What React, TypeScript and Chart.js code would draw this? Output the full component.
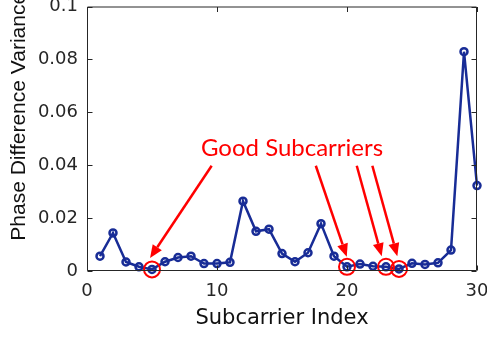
import React, { useEffect, useRef } from "react";
import { Chart, registerables } from "chart.js";

Chart.register(...registerables);

// ---- data ----
const subcarriers = [1, 2, 3, 4, 5, 6, 7, 8, 9, 10, 11, 12, 13, 14, 15, 16, 17, 18, 19, 20, 21, 22, 23, 24, 25, 26, 27, 28, 29, 30];
const variance = [
  0.0056, 0.0144, 0.0034, 0.0016, 0.0006, 0.0035, 0.0051, 0.0056, 0.0028, 0.0028,
  0.0033, 0.0264, 0.015, 0.0158, 0.0066, 0.0035, 0.0069, 0.0179, 0.0056, 0.0016,
  0.0026, 0.0018, 0.0016, 0.0008, 0.0029, 0.0025, 0.0031, 0.0079, 0.0829, 0.0323,
];
const xTicks = [0, 10, 20, 30];
const yTicks = [0, 0.02, 0.04, 0.06, 0.08, 0.1];
const goodSubcarriers = [5, 20, 23, 24];
const annotationLabel = "Good Subcarriers";
const annotationAnchor = [15.77, 0.0436];
const arrowFromX = [9.59, 17.6, 20.75, 21.95];
const arrowFromY = [0.0398, 0.0398, 0.0398, 0.0398];
const arrowToX = [4.85, 19.98, 22.67, 23.87];
const arrowToY = [0.0049, 0.0054, 0.0056, 0.0056];
const xTitle = "Subcarrier Index";
const yTitle = "Phase Difference Variance";

const LINE_BLUE = "rgb(24,44,150)";
const AXIS = "#262626";
const RED = "#ff0000";

const decor = {
  id: "decor",
  afterDatasetsDraw(chart: any) {
    const { ctx, scales } = chart;
    const x = scales.x;
    const y = scales.y;
    ctx.save();
    // red circles
    ctx.strokeStyle = RED;
    ctx.lineWidth = 2;
    goodSubcarriers.forEach((i) => {
      const cx = x.getPixelForValue(i);
      const cy = y.getPixelForValue(variance[i - 1]);
      ctx.beginPath();
      ctx.arc(cx, cy, 8, 0, Math.PI * 2);
      ctx.stroke();
    });
    // arrows
    ctx.fillStyle = RED;
    ctx.lineWidth = 2.5;
    for (let k = 0; k < arrowFromX.length; k++) {
      const x0 = x.getPixelForValue(arrowFromX[k]);
      const y0 = y.getPixelForValue(arrowFromY[k]);
      const x1 = x.getPixelForValue(arrowToX[k]);
      const y1 = y.getPixelForValue(arrowToY[k]);
      const ang = Math.atan2(y1 - y0, x1 - x0);
      const hl = 13;
      const hw = 5.5;
      const bx = x1 - hl * Math.cos(ang);
      const by = y1 - hl * Math.sin(ang);
      ctx.beginPath();
      ctx.moveTo(x0, y0);
      ctx.lineTo(bx, by);
      ctx.stroke();
      ctx.beginPath();
      ctx.moveTo(x1, y1);
      ctx.lineTo(bx + hw * Math.sin(ang), by - hw * Math.cos(ang));
      ctx.lineTo(bx - hw * Math.sin(ang), by + hw * Math.cos(ang));
      ctx.closePath();
      ctx.fill();
    }
    // label
    ctx.font = "24px Lato";
    ctx.textAlign = "center";
    ctx.textBaseline = "alphabetic";
    ctx.fillText(annotationLabel, x.getPixelForValue(annotationAnchor[0]), y.getPixelForValue(annotationAnchor[1]));
    ctx.restore();
  },
  afterDraw(chart: any) {
    const { ctx, chartArea: a, scales } = chart;
    const x = scales.x;
    const y = scales.y;
    ctx.save();
    ctx.strokeStyle = AXIS;
    ctx.lineWidth = 1;
    const L = a.left + 0.5;
    const R = a.right - 0.5;
    const T = a.top + 0.5;
    const B = a.bottom - 0.5;
    ctx.beginPath();
    ctx.rect(L, T, R - L, B - T);
    ctx.stroke();
    const tl = 5;
    ctx.beginPath();
    xTicks.forEach((v) => {
      const px = Math.round(x.getPixelForValue(v)) + 0.5;
      ctx.moveTo(px, B);
      ctx.lineTo(px, B - tl);
      ctx.moveTo(px, T);
      ctx.lineTo(px, T + tl);
    });
    yTicks.forEach((v) => {
      const py = Math.round(y.getPixelForValue(v)) + 0.5;
      ctx.moveTo(L, py);
      ctx.lineTo(L + tl, py);
      ctx.moveTo(R, py);
      ctx.lineTo(R - tl, py);
    });
    ctx.stroke();
    // y title
    ctx.fillStyle = "#111";
    ctx.font = "21px 'Liberation Sans'";
    ctx.textAlign = "center";
    ctx.textBaseline = "alphabetic";
    ctx.translate(25, a.top + (a.bottom - a.top) * 0.417);
    ctx.rotate(-Math.PI / 2);
    ctx.fillText(yTitle, 0, 0);
    ctx.restore();
  },
};

export default function App() {
  const ref = useRef<HTMLCanvasElement | null>(null);
  useEffect(() => {
    if (!ref.current) return;
    const chart = new Chart(ref.current, {
      type: "line",
      data: {
        datasets: [
          {
            data: subcarriers.map((s, i) => ({ x: s, y: variance[i] })),
            borderColor: LINE_BLUE,
            backgroundColor: "rgba(0,0,0,0)",
            borderWidth: 2.5,
            pointRadius: 3.5,
            pointBorderWidth: 2.5,
            pointBorderColor: LINE_BLUE,
            pointBackgroundColor: "rgba(0,0,0,0)",
            tension: 0,
            clip: false as any,
          },
        ],
      },
      options: {
        animation: false,
        responsive: false,
        devicePixelRatio: 1,
        layout: { padding: { top: 5, right: 10, left: 0, bottom: 0 } },
        plugins: { legend: { display: false }, tooltip: { enabled: false } },
        scales: {
          x: {
            type: "linear",
            min: 0,
            max: 30,
            afterBuildTicks: (s: any) => {
              s.ticks = xTicks.map((v) => ({ value: v }));
            },
            afterFit: (s: any) => {
              s.height = 68;
              s.paddingLeft = 0;
              s.paddingRight = 0;
            },
            grid: { display: false, drawTicks: false },
            border: { display: false },
            ticks: {
              color: AXIS,
              font: { family: "'DejaVu Sans'", size: 18 },
              padding: 10,
              maxRotation: 0,
              autoSkip: false,
            },
            title: {
              display: true,
              text: xTitle,
              color: "#111",
              font: { family: "'DejaVu Sans'", size: 21 },
              padding: { top: 1, bottom: 8 },
            },
          },
          y: {
            type: "linear",
            min: 0,
            max: 0.1,
            afterBuildTicks: (s: any) => {
              s.ticks = yTicks.map((v) => ({ value: v }));
            },
            afterFit: (s: any) => {
              s.width = 87;
              s.paddingTop = 0;
              s.paddingBottom = 0;
            },
            grid: { display: false, drawTicks: false },
            border: { display: false },
            ticks: {
              color: AXIS,
              font: { family: "'DejaVu Sans'", size: 18 },
              padding: 9,
              callback: (v: any) => String(Number(Number(v).toFixed(2))),
            },
          },
        },
      },
      plugins: [decor],
    });
    return () => chart.destroy();
  }, []);
  return (
    <div style={{ position: "fixed", left: 0, top: 0, width: 487, height: 339, background: "#fff" }}>
      <canvas ref={ref} width={487} height={339} />
    </div>
  );
}
